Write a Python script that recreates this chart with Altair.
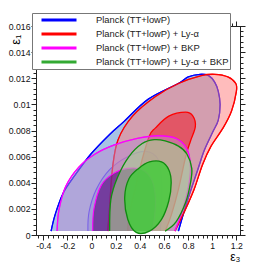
import altair as alt
import pandas as pd

# ---------------- data ----------------
series_labels = ["Planck (TT+lowP)", "Planck (TT+lowP) + Ly-\u03b1",
                 "Planck (TT+lowP) + BKP", "Planck (TT+lowP) + Ly-\u03b1 + BKP"]
series_colors = ["#0000ff", "#ff0000", "#ff00ff", "#33aa33"]

x_major = [-0.4, -0.2, 0, 0.2, 0.4, 0.6, 0.8, 1, 1.2]
y_major = [0, 0.002, 0.004, 0.006, 0.008, 0.01, 0.012, 0.014, 0.016]

# Planck (TT+lowP) 95%
blue95_x = [-0.335, -0.30, -0.235, -0.135, -0.005, 0.15, 0.27, 0.47, 0.72, 0.80, 0.90, 0.97,
            1.02, 1.05, 1.065, 1.05, 1.005, 0.935, 0.88, 0.79, 0.72]
blue95_y = [0.0003, 0.0016, 0.0032, 0.0046, 0.0062, 0.0077, 0.0087, 0.0104, 0.0116, 0.0121, 0.0123, 0.0122,
            0.0117, 0.0110, 0.0100, 0.0088, 0.0079, 0.0065, 0.0050, 0.0025, 0.0003]
# Planck (TT+lowP) 68%
blue68_x = [-0.03, -0.02, 0.04, 0.15, 0.30, 0.45, 0.55, 0.58, 0.58, 0.57]
blue68_y = [0.0003, 0.0018, 0.0035, 0.0050, 0.0060, 0.0064, 0.0058, 0.0042, 0.0020, 0.0003]
# + Ly-alpha 95%
red95_x = [0.135, 0.15, 0.175, 0.22, 0.34, 0.53, 0.72, 0.91, 1.02, 1.13, 1.195, 1.20,
           1.16, 1.09, 0.99, 0.92, 0.85, 0.77, 0.69]
red95_y = [0.0003, 0.0022, 0.0052, 0.0073, 0.0091, 0.0106, 0.0116, 0.0122, 0.0123, 0.0121, 0.0116, 0.0110,
           0.0095, 0.0082, 0.0068, 0.0054, 0.0035, 0.0018, 0.0003]
# + Ly-alpha 68%
red68_x = [0.30, 0.31, 0.36, 0.42, 0.48, 0.53, 0.64, 0.78, 0.84, 0.86, 0.82, 0.78, 0.72, 0.66, 0.61]
red68_y = [0.0003, 0.0015, 0.0035, 0.0058, 0.0076, 0.0082, 0.0091, 0.0094, 0.0091, 0.0083, 0.0072,
           0.0060, 0.0035, 0.0015, 0.0003]
# + BKP 95%
mag95_x = [-0.285, -0.27, -0.215, -0.105, 0.03, 0.19, 0.38, 0.55, 0.70, 0.79, 0.82, 0.80, 0.74, 0.69]
mag95_y = [0.0003, 0.0019, 0.0037, 0.0052, 0.0062, 0.0069, 0.0074, 0.0076, 0.0074, 0.0066, 0.0052,
           0.0035, 0.0015, 0.0003]
# + BKP 68%
mag68_x = [0.01, 0.02, 0.08, 0.18, 0.30, 0.42, 0.50, 0.53, 0.52, 0.50]
mag68_y = [0.0003, 0.0020, 0.0038, 0.0047, 0.0051, 0.0050, 0.0042, 0.0028, 0.0012, 0.0003]
# + Ly-alpha + BKP 95%
grn95_x = [0.15, 0.16, 0.215, 0.31, 0.42, 0.52, 0.61, 0.72, 0.79, 0.83, 0.82, 0.78, 0.70, 0.61]
grn95_y = [0.0003, 0.0027, 0.0044, 0.0060, 0.0070, 0.0073, 0.0072, 0.0068, 0.0062, 0.0051, 0.0040,
           0.0025, 0.0010, 0.0003]
# + Ly-alpha + BKP 68% (closed)
grn68_x = [0.37, 0.30, 0.275, 0.31, 0.39, 0.48, 0.58, 0.64, 0.66, 0.64, 0.58, 0.48]
grn68_y = [0.0002, 0.0012, 0.0029, 0.0043, 0.0051, 0.0056, 0.0056, 0.0050, 0.0040, 0.0026, 0.0012, 0.0003]

contours = [
    # name, series index, level, xs, ys, interpolation, fill, fillOpacity, stroke, strokeWidth
    ("blue95", 0, "95", blue95_x, blue95_y, "cardinal", "#4f86cc", 0.5, "#0000ff", 1.3),
    ("blue68", 0, "68", blue68_x, blue68_y, "cardinal", "#4f86cc", 0.3, "#3a3aff", 1.1),
    ("red95", 1, "95", red95_x, red95_y, "cardinal", "#ff7a7a", 0.5, "#ff0000", 1.3),
    ("red68", 1, "68", red68_x, red68_y, "cardinal", "#ee1c2a", 0.55, "#ff0000", 1.3),
    ("mag95", 2, "95", mag95_x, mag95_y, "cardinal", "#b98ad0", 0.5, "#ff00ff", 1.3),
    ("mag68", 2, "68", mag68_x, mag68_y, "cardinal", "#5a0a80", 0.65, "#ff00ff", 1.1),
    ("grn95", 3, "95", grn95_x, grn95_y, "cardinal", "#a8d890", 0.55, "#109010", 1.3),
    ("grn68", 3, "68", grn68_x, grn68_y, "cardinal-closed", "#44cc3c", 0.85, "#108c10", 1.3),
]

rows = []
for name, si, lvl, xs_, ys_, *_ in contours:
    for i, (xv, yv) in enumerate(zip(xs_, ys_)):
        rows.append({"contour": name, "series": series_labels[si], "level": lvl, "i": i, "x": xv, "y": yv})
df = pd.DataFrame(rows)

xs = alt.Scale(domain=[-0.46, 1.23], nice=False, zero=False)
ys = alt.Scale(domain=[0, 0.016], nice=False, zero=False)

# legend carrier (drawn first, under everything)
carrier = alt.Chart(df[df.level == "95"]).mark_line(strokeWidth=1.2, clip=True, interpolate="cardinal").encode(
    x=alt.X("x:Q", scale=xs, axis=None),
    y=alt.Y("y:Q", scale=ys, axis=None),
    detail="contour:N",
    order=alt.Order("i:Q"),
    color=alt.Color("series:N", scale=alt.Scale(domain=series_labels, range=series_colors),
                    legend=alt.Legend(orient="none", legendX=-4, legendY=-13, title=None,
                                      fillColor="white", strokeColor="#777", padding=1,
                                      symbolType="stroke", symbolSize=1225, symbolStrokeWidth=3,
                                      clipHeight=12, rowPadding=2, symbolOffset=7,
                                      labelFont="Liberation Sans", labelFontSize=9.4,
                                      labelColor="#222", labelOffset=18, labelLimit=260)),
)

layers = [carrier]
for name, si, lvl, xs_, ys_, interp, fill, fop, stroke, sw in contours:
    layers.append(
        alt.Chart(df[df.contour == name]).mark_line(
            fill=fill, fillOpacity=fop, stroke=stroke, strokeWidth=sw,
            interpolate=interp, clip=True
        ).encode(
            x=alt.X("x:Q", scale=xs, axis=None),
            y=alt.Y("y:Q", scale=ys, axis=None),
            order=alt.Order("i:Q"),
        )
    )

x_minor = [round(-0.44 + 0.04 * k, 2) for k in range(42)]
y_minor = [round(0.0004 * k, 4) for k in range(41)]

base_pts = df[df.contour == "grn68"]


def axis_layer(xaxis, yaxis):
    return alt.Chart(base_pts).mark_point(opacity=0).encode(
        x=alt.X("x:Q", scale=xs, axis=xaxis),
        y=alt.Y("y:Q", scale=ys, axis=yaxis),
    )


ax_main = axis_layer(
    alt.Axis(orient="bottom", values=x_major, labelExpr="'' + datum.value", tickSize=5,
             labelPadding=1, title="\u03b5\u2083", titleFontSize=12, titleFontWeight="normal",
             titleAlign="right", titleX=204, titleY=25, titleBaseline="alphabetic",
             titleFont="Liberation Sans"),
    alt.Axis(orient="left", values=y_major, labelExpr="'' + datum.value", tickSize=5,
             labelPadding=1, title="\u03b5\u2081", titleFontSize=13, titleFontWeight="normal",
             titleAngle=270, titleAlign="right", titleX=-17, titleY=8, titleBaseline="alphabetic",
             titleFont="Liberation Sans"),
)
ax_minor = axis_layer(
    alt.Axis(orient="bottom", values=x_minor, labels=False, tickSize=3, domain=False, title=None),
    alt.Axis(orient="left", values=y_minor, labels=False, tickSize=3, domain=False, title=None),
)
ax_mirror = axis_layer(
    alt.Axis(orient="top", values=x_major, labels=False, tickSize=5, title=None),
    alt.Axis(orient="right", values=y_major, labels=False, tickSize=5, title=None),
)
ax_mirror_minor = axis_layer(
    alt.Axis(orient="top", values=x_minor, labels=False, tickSize=3, domain=False, title=None),
    alt.Axis(orient="right", values=y_minor, labels=False, tickSize=3, domain=False, title=None),
)

layers += [ax_main, ax_minor, ax_mirror, ax_mirror_minor]

chart = alt.layer(*layers).resolve_axis(x="independent", y="independent").properties(
    width=204, height=209,
    autosize=alt.AutoSizeParams(type="none"),
    padding={"left": 28, "top": 18, "right": 20, "bottom": 30},
).configure_view(stroke="#000", strokeWidth=1).configure_axis(
    grid=False, labelFont="Liberation Sans", labelFontSize=8.7, labelColor="#111",
    tickColor="#222", domainColor="#222", titleColor="#000",
)

chart.save("out.html", embed_options={"renderer": "svg", "actions": False})
